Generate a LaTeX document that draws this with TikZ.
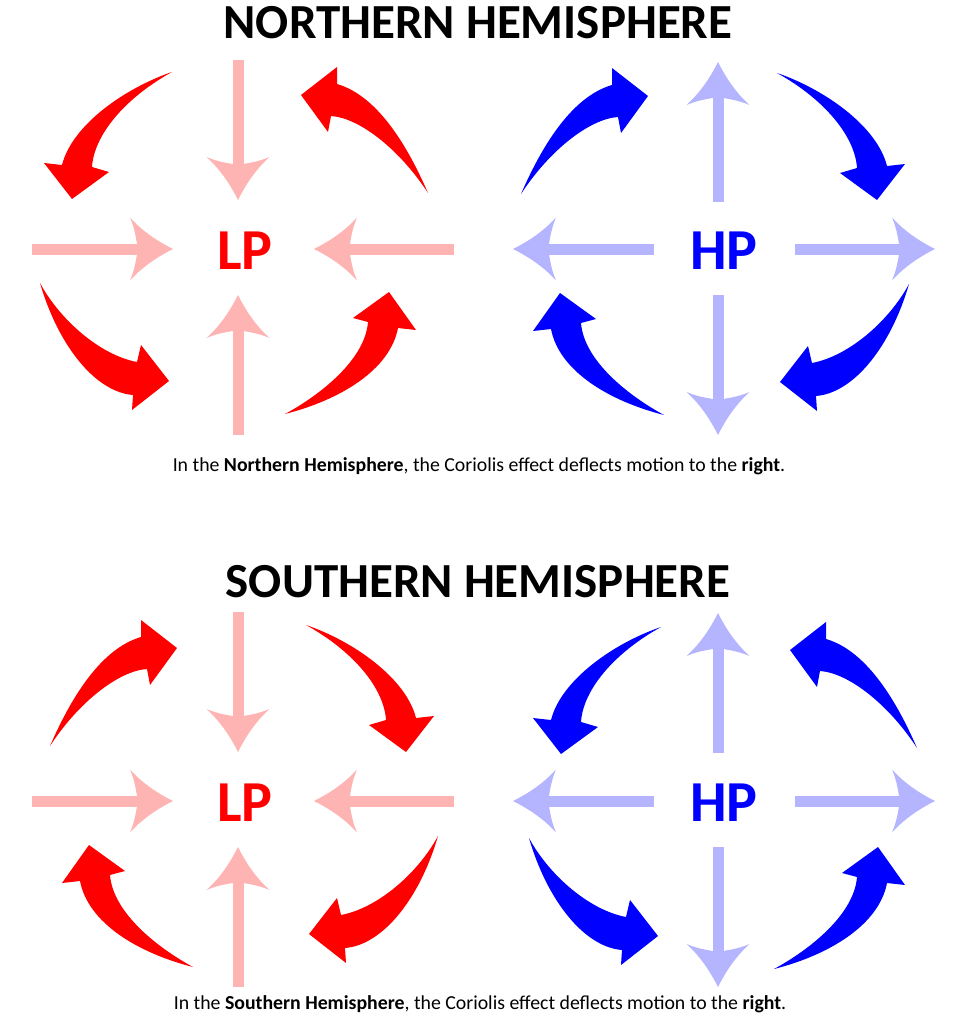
\documentclass[tikz,border=0pt]{standalone}
\usepackage{fontspec}
\setmainfont{Carlito}
\usetikzlibrary{calc}
\definecolor{strongred}{RGB}{255,0,0}
\definecolor{palered}{RGB}{255,180,180}
\definecolor{strongblue}{RGB}{0,0,255}
\definecolor{paleblue}{RGB}{180,180,255}
\tikzset{
  titletext/.style={font=\bfseries\fontsize{49}{55}\selectfont, anchor=base, inner sep=0pt},
  pressuretext/.style={font=\bfseries\fontsize{58}{62}\selectfont, anchor=base, inner sep=0pt},
  captiontext/.style={font=\fontsize{19.8}{22}\selectfont, anchor=base, inner sep=0pt},
  shaftline/.style={line width=11pt}
}
% straight arrow: tail, tip, angle, colour
\newcommand\sarr[4]{%
  \draw[shaftline, #4] (#1) -- ($(#2)!35pt!(#1)$);
  \fill[#4, shift={(#2)}, rotate=#3] (0,0) .. controls (-14,-7) and (-30,-17) .. (-43,-31.5)
    .. controls (-38,-20) and (-37,-10) .. (-36,-5.5) -- (-36,5.5)
    .. controls (-37,10) and (-38,20) .. (-43,31.5)
    .. controls (-30,17) and (-14,7) .. (0,0) -- cycle;
}
% four curved arrows of the NH low-pressure panel
\newcommand\curvedset[1]{%
  \fill[#1] (172,72) .. controls (125,88) and (72,125) .. (62,165) -- (44,163) -- (72,199)
    -- (109,172) -- (92,167) .. controls (94,135) and (125,98) .. (172,72) -- cycle;
  \fill[#1] (428,193) .. controls (405,140) and (375,95) .. (337,84) -- (337,67) -- (301,95)
    -- (328,132) -- (331,116) .. controls (360,118) and (400,150) .. (428,193) -- cycle;
  \fill[#1] (40,283) .. controls (58,345) and (95,392) .. (133,395) -- (132,410) -- (169,381)
    -- (141,345) -- (137,362) .. controls (100,355) and (60,320) .. (40,283) -- cycle;
  \fill[#1] (285,414) .. controls (340,400) and (390,370) .. (398,328) -- (416,330) -- (389,292)
    -- (353,318) -- (368,322) .. controls (365,360) and (320,395) .. (285,414) -- cycle;
}
\begin{document}
\begin{tikzpicture}[x=1pt,y=-1pt]
\useasboundingbox (0,0) rectangle (955,1024);
\fill[white] (0,0) rectangle (955,1024);

% ---------- titles and captions
\node[titletext] (titleN) at (478,39) {NORTHERN HEMISPHERE};
\node[titletext] (titleS) at (478,597) {SOUTHERN HEMISPHERE};
\node[captiontext] (capN) at (479,471) {In the \textbf{Northern Hemisphere}, the Coriolis effect deflects motion to the \textbf{right}.};
\node[captiontext] (capS) at (480,1009) {In the \textbf{Southern Hemisphere}, the Coriolis effect deflects motion to the \textbf{right}.};

% ---------- pressure labels
\node[pressuretext, text=strongred] (lpN) at (245,269) {LP};
\node[pressuretext, text=strongblue] (hpN) at (724,269) {HP};
\node[pressuretext, text=strongred] (lpS) at (245,821) {LP};
\node[pressuretext, text=strongblue] (hpS) at (724,821) {HP};

% ---------- straight arrow end points
% NH LP
\coordinate (a1t) at (238,60);  \coordinate (a1h) at (238,200);
\coordinate (a2t) at (238,435); \coordinate (a2h) at (238,295);
\coordinate (a3t) at (32,249);  \coordinate (a3h) at (173,249);
\coordinate (a4t) at (454,249); \coordinate (a4h) at (314,249);
% NH HP
\coordinate (b1t) at (718,202); \coordinate (b1h) at (718,62);
\coordinate (b2t) at (718,295); \coordinate (b2h) at (718,435);
\coordinate (b3t) at (654,249); \coordinate (b3h) at (513,249);
\coordinate (b4t) at (795,249); \coordinate (b4h) at (935,249);
% SH LP
\coordinate (c1t) at (238,612); \coordinate (c1h) at (238,752);
\coordinate (c2t) at (238,987); \coordinate (c2h) at (238,847);
\coordinate (c3t) at (32,801);  \coordinate (c3h) at (173,801);
\coordinate (c4t) at (454,801); \coordinate (c4h) at (314,801);
% SH HP
\coordinate (d1t) at (718,753); \coordinate (d1h) at (718,613);
\coordinate (d2t) at (718,847); \coordinate (d2h) at (718,987);
\coordinate (d3t) at (654,801); \coordinate (d3h) at (513,801);
\coordinate (d4t) at (795,801); \coordinate (d4h) at (935,801);

\sarr{a1t}{a1h}{-90}{palered}
\sarr{a2t}{a2h}{90}{palered}
\sarr{a3t}{a3h}{0}{palered}
\sarr{a4t}{a4h}{180}{palered}

\sarr{b1t}{b1h}{90}{paleblue}
\sarr{b2t}{b2h}{-90}{paleblue}
\sarr{b3t}{b3h}{180}{paleblue}
\sarr{b4t}{b4h}{0}{paleblue}

\sarr{c1t}{c1h}{-90}{palered}
\sarr{c2t}{c2h}{90}{palered}
\sarr{c3t}{c3h}{0}{palered}
\sarr{c4t}{c4h}{180}{palered}

\sarr{d1t}{d1h}{90}{paleblue}
\sarr{d2t}{d2h}{-90}{paleblue}
\sarr{d3t}{d3h}{180}{paleblue}
\sarr{d4t}{d4h}{0}{paleblue}

% ---------- curved arrows
\begin{scope}
  \curvedset{strongred}
\end{scope}
\begin{scope}[shift={(949,1)}, xscale=-1]
  \curvedset{strongblue}
\end{scope}
\begin{scope}[shift={(478,553)}, xscale=-1]
  \curvedset{strongred}
\end{scope}
\begin{scope}[shift={(489,555)}]
  \curvedset{strongblue}
\end{scope}
\end{tikzpicture}
\end{document}
